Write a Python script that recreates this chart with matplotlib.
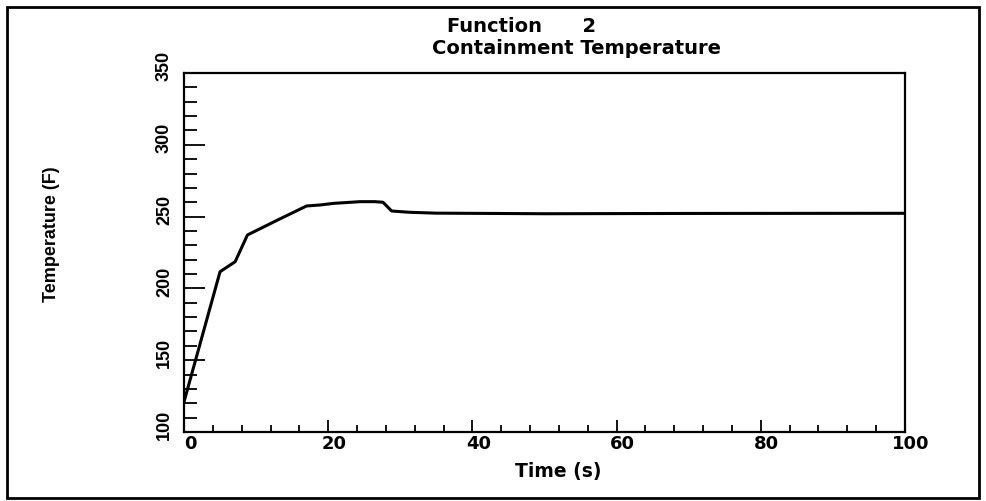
import matplotlib
matplotlib.use('Agg')
import matplotlib.pyplot as plt
from matplotlib.ticker import MultipleLocator
from matplotlib.transforms import ScaledTranslation
from matplotlib.patches import Rectangle

# data
time_s = [0, 5.0, 7.1, 8.8, 12.9, 17.0, 18.9, 20.7, 24.4, 26.5, 27.6, 28.8, 31.3, 35.0, 50, 70, 100]
temp_f = [121, 211.6, 218.6, 237.2, 247.4, 257.4, 258.1, 259.2, 260.4, 260.4, 260.0, 253.9, 253.0, 252.4, 252.0, 252.2, 252.3]

x_ticks = [0, 20, 40, 60, 80, 100]
y_ticks = [100, 150, 200, 250, 300, 350]

title_1 = "Function      2"
title_2 = "Containment Temperature"

narrow = ['Liberation Sans', 'DejaVu Sans']

fig = plt.figure(figsize=(9.86, 5.01), dpi=100)
ax = fig.add_axes([0.1866, 0.1377, 0.7312, 0.7166])

ax.plot(time_s, temp_f, color='black', linewidth=2.2, solid_joinstyle='round')

ax.set_xlim(0, 100)
ax.set_ylim(100, 350)
ax.set_xticks(x_ticks)
ax.set_yticks(y_ticks)
ax.xaxis.set_minor_locator(MultipleLocator(4))
ax.yaxis.set_minor_locator(MultipleLocator(10))

for s in ax.spines.values():
    s.set_linewidth(1.6)

ax.tick_params(axis='y', which='major', direction='in', length=15, width=1.3, pad=8)
ax.tick_params(axis='y', which='minor', direction='in', length=9, width=1.3)
ax.tick_params(axis='x', which='major', direction='in', length=8.5, width=1.3, pad=2)
ax.tick_params(axis='x', which='minor', direction='in', length=5, width=1.3)

ax.set_xticklabels([str(v) for v in x_ticks], fontsize=13, fontweight='bold')
ax.set_yticklabels([str(v) for v in y_ticks], rotation=90, va='center',
                   fontsize=13, fontweight='bold', family=narrow)

up = ScaledTranslation(0, 0.07, fig.dpi_scale_trans)
for lab in ax.get_yticklabels():
    lab.set_transform(lab.get_transform() + up)
right = ScaledTranslation(0.06, 0, fig.dpi_scale_trans)
for lab in ax.get_xticklabels():
    lab.set_transform(lab.get_transform() + right)

fig.text(447 / 986, 1 - 27 / 501, title_1, ha='left', va='center', fontsize=14, fontweight='bold')
fig.text(577 / 986, 1 - 49 / 501, title_2, ha='center', va='center', fontsize=14, fontweight='bold')
fig.text(558 / 986, 1 - 472 / 501, "Time (s)", ha='center', va='center', fontsize=13.5, fontweight='bold')
fig.text(51 / 986, 1 - 234 / 501, "Temperature (F)", ha='center', va='center', rotation=90,
         fontsize=13, fontweight='bold', family=narrow)

# outer frame of the scanned page
fig.patches.append(Rectangle((7 / 986, 3 / 501), 972 / 986, 491 / 501, transform=fig.transFigure,
                             fill=False, edgecolor='black', linewidth=2))

fig.savefig('out.png', dpi=100)
